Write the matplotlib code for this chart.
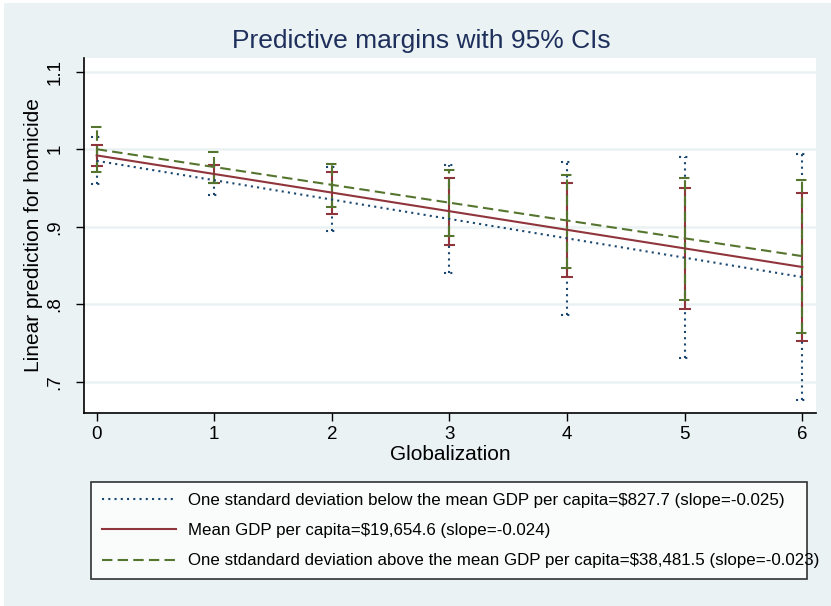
import matplotlib
matplotlib.use("Agg")
import matplotlib.pyplot as plt
from matplotlib.patches import Rectangle

plt.rcParams['font.family'] = ['Liberation Sans', 'DejaVu Sans']

# globalization values
glob = [0, 1, 2, 3, 4, 5, 6]

# one sd below mean GDP
low_fit = [0.985, 0.960, 0.935, 0.910, 0.885, 0.860, 0.835]
low_lo = [0.955, 0.941, 0.894, 0.840, 0.786, 0.730, 0.677]
low_hi = [1.016, 0.979, 0.977, 0.980, 0.984, 0.990, 0.994]

# mean GDP
mid_fit = [0.992, 0.968, 0.944, 0.920, 0.896, 0.872, 0.848]
mid_lo = [0.978, 0.956, 0.917, 0.876, 0.835, 0.794, 0.753]
mid_hi = [1.006, 0.980, 0.971, 0.963, 0.957, 0.950, 0.944]

# one sd above mean GDP
high_fit = [1.000, 0.977, 0.954, 0.931, 0.908, 0.885, 0.862]
high_lo = [0.971, 0.957, 0.926, 0.888, 0.847, 0.805, 0.763]
high_hi = [1.029, 0.996, 0.981, 0.973, 0.967, 0.963, 0.960]

labels = [
    "One standard deviation below the mean GDP per capita=$827.7 (slope=-0.025)",
    "Mean GDP per capita=$19,654.6 (slope=-0.024)",
    "One stdandard deviation above the mean GDP per capita=$38,481.5 (slope=-0.023)",
]

bg = '#EAF2F3'
colors = ['#1A476F', '#90353B', '#55752F']
styles = [(0, (1, 2)), '-', (0, (5, 2.5))]

fig = plt.figure(figsize=(8.31, 6.06), dpi=100, facecolor='white')
# light background panel (thin white strip on top/left like the original export)
fig.patches.append(Rectangle((4 / 831, 0), 1, 1 - 3 / 606, transform=fig.transFigure,
                             facecolor=bg, edgecolor='none', zorder=-10))
ax = fig.add_axes([84 / 831, 1 - 413 / 606, (816 - 84) / 831, (413 - 58) / 606])
ax.set_facecolor('white')

series = [(low_fit, low_lo, low_hi), (mid_fit, mid_lo, mid_hi), (high_fit, high_lo, high_hi)]

cap = 0.05
for (fit, lo, hi), c, ls in zip(series, colors, styles):
    ax.vlines(glob, lo, hi, colors=c, linestyles=ls, linewidth=1.5, zorder=3)
    for x, a, b in zip(glob, lo, hi):
        ax.hlines([a, b], x - cap, x + cap, colors=c, linestyles=ls, linewidth=1.5, zorder=3)

handles = []
for (fit, lo, hi), c, ls, lab in zip(series, colors, styles, labels):
    h, = ax.plot(glob, fit, color=c, linestyle=ls, linewidth=1.5, zorder=4, label=lab)
    handles.append(h)

ax.set_xlim(-0.108, 6.117)
ax.set_ylim(0.6596, 1.1177)
ax.set_xticks(glob)
ax.set_yticks([0.7, 0.8, 0.9, 1.0, 1.1])
ax.set_yticklabels(['.7', '.8', '.9', '1', '1.1'], rotation=90, va='center')
ax.tick_params(axis='both', labelsize=13.5, length=6, width=1, direction='out')
ax.tick_params(axis='y', pad=9)
ax.grid(axis='y', color=bg, linewidth=1.8, zorder=0)
ax.set_axisbelow(True)
for s in ['top', 'right']:
    ax.spines[s].set_visible(False)
for s in ['left', 'bottom']:
    ax.spines[s].set_linewidth(1.2)

ax.set_xlabel('Globalization', fontsize=15, labelpad=1)
ax.set_ylabel('Linear prediction for homicide', fontsize=15, labelpad=2)
fig.text(421 / 831, 1 - 41 / 606, 'Predictive margins with 95% CIs', fontsize=19,
         color='#1E2F5C', ha='center', va='center')

leg = fig.legend(handles=handles, loc='lower left',
                 bbox_to_anchor=(91 / 831, 1 - 579 / 606, (807 - 91) / 831, (579 - 483) / 606),
                 mode='expand', fontsize=12.2, frameon=True, fancybox=False,
                 handlelength=4.4, handletextpad=0.7, labelspacing=0.9,
                 borderpad=0.62, borderaxespad=0)
leg.get_frame().set_edgecolor('black')
leg.get_frame().set_linewidth(1.2)
leg.get_frame().set_facecolor('white')

fig.savefig('out.png', dpi=100, facecolor=fig.get_facecolor())
